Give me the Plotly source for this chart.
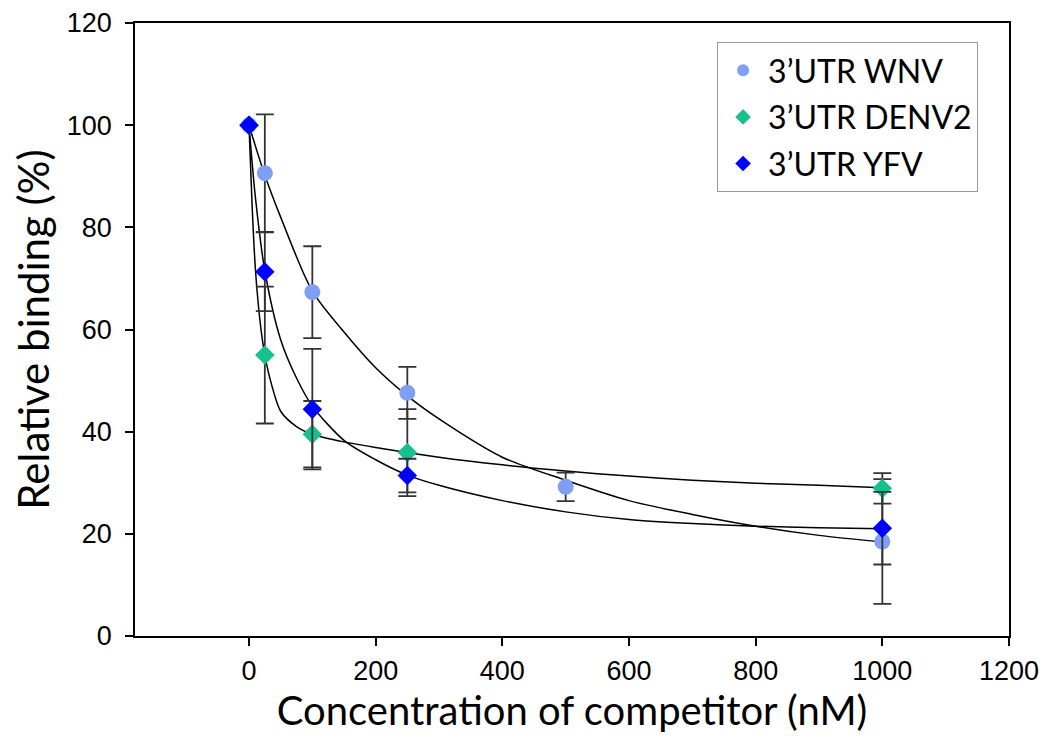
import plotly.graph_objects as go

# ---- data ----
conc = [0, 25, 100, 250, 500, 1000]
wnv_y = [100, 90.6, 67.3, 47.6, 29.2, 18.5]
wnv_err = [0, 11.5, 9.0, 5.1, 2.8, 12.2]

denv_x = [0, 25, 100, 250, 1000]
denv_y = [100, 55.0, 39.5, 35.9, 28.9]
denv_err = [0, 13.4, 6.5, 8.5, 3.0]

yfv_x = [0, 25, 100, 250, 1000]
yfv_y = [100, 71.3, 44.4, 31.4, 21.1]
yfv_err = [0, 7.7, 11.8, 3.3, 7.1]

# fitted curves
wnv_fit_x = [0, 25, 50, 100, 150, 200, 250, 300, 400, 500, 600, 700, 800, 900, 1000]
wnv_fit_y = [100, 90.2, 82, 67.5, 59.5, 52.5, 47, 42.5, 35, 30.5, 26.5, 23.8, 21.5, 19.7, 18.4]

denv_fit_x = [0, 5, 10, 15, 20, 25, 35, 50, 75, 100, 150, 200, 300, 400, 500, 600, 700, 800, 900, 1000]
denv_fit_y = [100, 84, 72, 64.5, 59, 55, 49.5, 44, 41, 39.5, 38, 36.9, 35, 33.5, 32.3, 31.3, 30.5, 29.9, 29.5, 29]

yfv_fit_x = [0, 10, 25, 50, 75, 100, 150, 200, 250, 300, 400, 500, 600, 700, 800, 900, 1000]
yfv_fit_y = [100, 86, 71.5, 58, 50.5, 45, 38.3, 34.5, 31.5, 29.5, 26.5, 24.3, 22.8, 22, 21.5, 21.2, 21]

names = ["3\u2019UTR WNV", "3\u2019UTR DENV2", "3\u2019UTR YFV"]
colors = ["#7f9ff5", "#19c08f", "#0000ff"]

x_ticks = [0, 200, 400, 600, 800, 1000, 1200]
y_ticks = [0, 20, 40, 60, 80, 100, 120]

fig = go.Figure()

for fx, fy in [(wnv_fit_x, wnv_fit_y), (denv_fit_x, denv_fit_y), (yfv_fit_x, yfv_fit_y)]:
    fig.add_trace(go.Scatter(x=fx, y=fy, mode="lines", line=dict(color="black", width=1.5, shape="spline", smoothing=0.8),
                             showlegend=False, hoverinfo="skip"))

err_style = dict(type="data", visible=True, color="#333333", thickness=1.8, width=9)

fig.add_trace(go.Scatter(x=conc, y=wnv_y, mode="markers", name=names[0], legendgroup="a",
                         marker=dict(symbol="circle", size=16, color=colors[0]),
                         error_y=dict(array=wnv_err, **err_style)))
fig.add_trace(go.Scatter(x=denv_x, y=denv_y, mode="markers", name=names[1], legendgroup="b",
                         marker=dict(symbol="diamond", size=15, color=colors[1]),
                         error_y=dict(array=denv_err, **err_style)))
fig.add_trace(go.Scatter(x=yfv_x, y=yfv_y, mode="markers", name=names[2], legendgroup="c",
                         marker=dict(symbol="diamond", size=15, color=colors[2]),
                         error_y=dict(array=yfv_err, **err_style)))

fig.update_layout(
    width=1046, height=751,
    margin=dict(l=135, r=37, t=23, b=115, autoexpand=False),
    plot_bgcolor="white", paper_bgcolor="white",
    font=dict(family="Liberation Sans, Arial", color="black"),
    legend=dict(x=0.666, y=0.969, xanchor="left", yanchor="top",
                bordercolor="#999999", borderwidth=1, bgcolor="white",
                font=dict(family="Lato, Open Sans", size=32, color="black"),
                traceorder="grouped", tracegroupgap=2, itemsizing="constant", itemwidth=40),
    xaxis=dict(range=[-180, 1200], tickvals=x_ticks, ticks="outside", ticklen=8, tickwidth=1.5,
               tickcolor="black", showline=True, linecolor="black", linewidth=1.5, mirror=True,
               showgrid=False, zeroline=False, tickfont=dict(size=27), automargin=False,
               ticklabelstandoff=2,
               title=dict(text="Concentration of competitor (nM)", font=dict(family="Lato, Open Sans", size=40), standoff=8)),
    yaxis=dict(range=[0, 120], tickvals=y_ticks, ticks="outside", ticklen=8, tickwidth=1.5,
               tickcolor="black", showline=True, linecolor="black", linewidth=1.5, mirror=True,
               showgrid=False, zeroline=False, tickfont=dict(size=27), automargin=False,
               ticklabelstandoff=8,
               title=dict(text="Relative binding (%)", font=dict(family="Lato, Open Sans", size=42), standoff=4)),
)

fig.write_html("out.html")
